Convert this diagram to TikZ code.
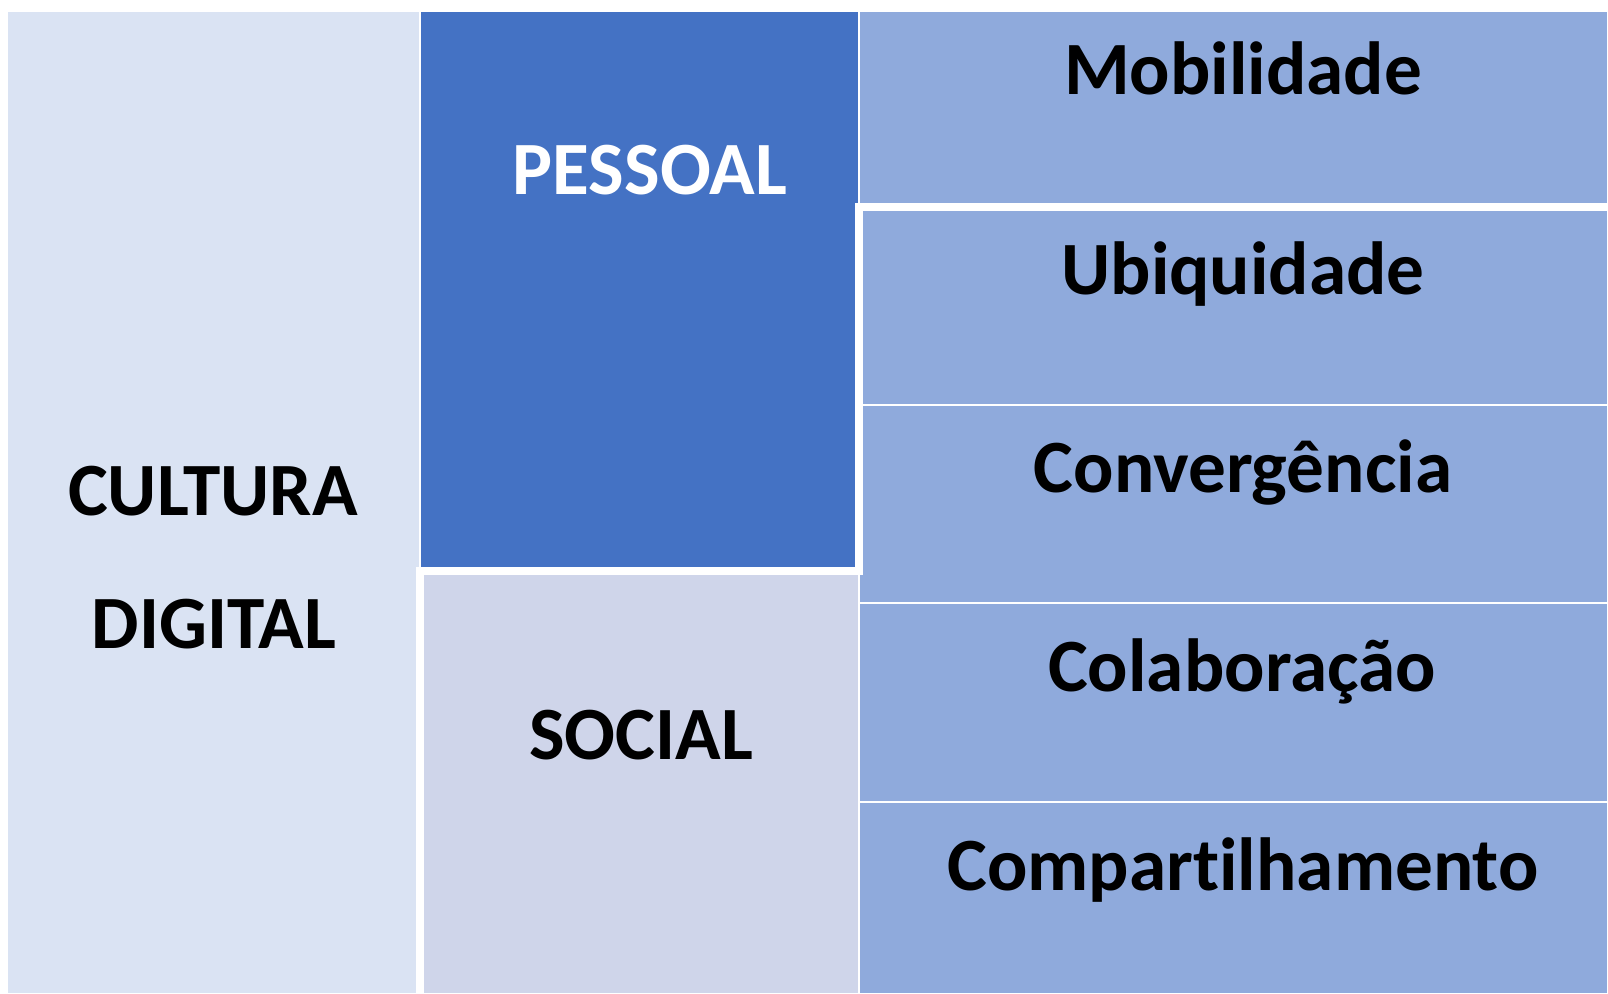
\documentclass[tikz,border=0pt]{standalone}
\usepackage{fontspec}
\setmainfont{Carlito}[Ligatures=NoCommon]
\usepackage{tikz}

\definecolor{culturafill}{HTML}{DAE3F3}
\definecolor{pessoalfill}{HTML}{4472C4}
\definecolor{socialfill}{HTML}{CFD5EA}
\definecolor{itemfill}{HTML}{8FAADC}

\tikzset{
  cell/.style={draw=white, line width=0.02cm},
  lbl/.style={anchor=base, inner sep=0pt, font=\fontsize{21.4pt}{26pt}\selectfont\bfseries}
}

\begin{document}
\begin{tikzpicture}[x=0.01cm, y=-0.01cm]
\fill[white] (0,0) rectangle (1608,994);
\useasboundingbox (0,0) rectangle (1608,994);

\draw[cell, fill=culturafill] (7,11) rectangle (420,994);
\draw[cell, fill=pessoalfill] (420,11) rectangle (859,571);
\draw[cell, fill=socialfill] (420,571) rectangle (859,994);

\draw[cell, fill=itemfill] (859,11) rectangle (1608,207);
\draw[cell, fill=itemfill] (859,207) rectangle (1608,405);
\draw[cell, fill=itemfill] (859,405) rectangle (1608,603);
\draw[cell, fill=itemfill] (859,603) rectangle (1608,802);
\draw[cell, fill=itemfill] (859,802) rectangle (1608,994);

\draw[white, line width=0.08cm] (1608,207) -- (859,207) -- (859,571) -- (420,571) -- (420,994);

\node[lbl] (cultura) at (213,515) {CULTURA};
\node[lbl] (digital) at (214,648) {DIGITAL};
\node[lbl, text=white] (pessoal) at (650,195) {PESSOAL};
\node[lbl] (social) at (641,759) {SOCIAL};

\node[lbl] (mobilidade) at (1243,95) {Mobilidade};
\node[lbl] (ubiquidade) at (1243,295) {Ubiquidade};
\node[lbl] (convergencia) at (1243,492) {Convergência};
\node[lbl] (colaboracao) at (1242,692) {Colaboração};
\node[lbl] (compartilhamento) at (1243,890) {Compartilhamento};

\end{tikzpicture}
\end{document}
